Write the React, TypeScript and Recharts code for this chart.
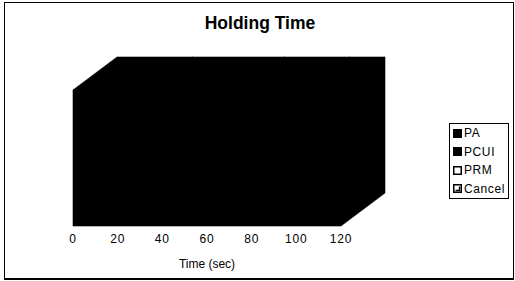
import React from "react";
import { BarChart, Bar, XAxis, YAxis } from "recharts";

const categories = ["Holding Time"];
const paValues = [34];
const pcuiValues = [41];
const prmValues = [29];
const cancelValues = [16];
const xTicks = [0, 20, 40, 60, 80, 100, 120];
const seriesNames = ["PA", "PCUI", "PRM", "Cancel"];

const rows = categories.map((name, i) => ({
  name,
  PA: paValues[i],
  PCUI: pcuiValues[i],
  PRM: prmValues[i],
  Cancel: cancelValues[i],
}));

const FONT = "'Liberation Sans', Arial, sans-serif";
// depth of the 3D box
const DX = 44;
const DY = 33;

function Box3D(props: any) {
  const { x, y, width, height } = props;
  if (!width || !height) return null;
  const x1 = x + width;
  const y1 = y + height;
  const d = [
    `M${x},${y} L${x1},${y} L${x1},${y1} L${x},${y1} Z`,
    `M${x},${y} L${x + DX},${y - DY} L${x1 + DX},${y - DY} L${x1},${y} Z`,
    `M${x1},${y} L${x1 + DX},${y - DY} L${x1 + DX},${y1 - DY} L${x1},${y1} Z`,
  ].join(" ");
  return <path d={d} fill="#000" stroke="#000" strokeWidth={0.6} />;
}

function LegendIcon({ name }: { name: string }) {
  if (name === "PRM") {
    return (
      <svg width={9} height={9} style={{ marginRight: 2 }}>
        <rect x={0.75} y={0.75} width={7.5} height={7.5} fill="#fff" stroke="#000" strokeWidth={1.5} />
      </svg>
    );
  }
  if (name === "Cancel") {
    return (
      <svg width={9} height={9} style={{ marginRight: 2 }}>
        <rect x={0.75} y={0.75} width={7.5} height={7.5} fill="#fff" stroke="#000" strokeWidth={1.5} />
        <path d="M2.5,6.5 L6.5,6.5 L6.5,2.5" fill="none" stroke="#000" strokeWidth={1.3} />
      </svg>
    );
  }
  return (
    <svg width={9} height={9} style={{ marginRight: 2 }}>
      <rect x={0} y={0} width={9} height={9} fill="#000" />
    </svg>
  );
}

function ChartLegend() {
  return (
    <div
      style={{
        position: "absolute",
        left: 449,
        top: 123,
        border: "1px solid #000",
        width: 58,
        fontFamily: FONT,
        fontSize: 12,
        letterSpacing: 0.6,
        color: "#000",
      }}
    >
      {seriesNames.map((s) => (
        <div key={s} style={{ height: 18.5, display: "flex", alignItems: "center", paddingLeft: 3 }}>
          <LegendIcon name={s} />
          <span>{s}</span>
        </div>
      ))}
    </div>
  );
}

export default function App() {
  return (
    <div style={{ position: "absolute", left: 0, top: 0, width: 515, height: 281, background: "#fff" }}>
      <div
        style={{
          position: "absolute",
          left: 4,
          top: 2,
          width: 508,
          height: 275,
          borderLeft: "1px solid #000",
          borderRight: "1px solid #000",
          borderTop: "1px solid #000",
          borderBottom: "2px solid #000",
        }}
      />
      <div
        style={{
          position: "absolute",
          left: 160,
          top: 13,
          width: 200,
          textAlign: "center",
          fontFamily: FONT,
          fontWeight: "bold",
          fontSize: 17.5,
          color: "#000",
        }}
      >
        Holding Time
      </div>
      <BarChart
        width={515}
        height={281}
        data={rows}
        layout="vertical"
        barCategoryGap={0}
        margin={{ top: 90, right: 174, bottom: 10, left: 73 }}
        style={{ position: "absolute", left: 0, top: 0 }}
      >
        <XAxis
          type="number"
          domain={[0, 120]}
          ticks={xTicks}
          axisLine={false}
          tickLine={false}
          height={45}
          tick={{ fill: "#000", fontSize: 12, fontFamily: FONT, letterSpacing: 0.8 }}
          label={{
            value: "Time (sec)",
            position: "insideBottom",
            offset: 3,
            fill: "#000",
            fontSize: 12,
            fontFamily: FONT,
          }}
        />
        <YAxis type="category" dataKey="name" hide />
        {seriesNames.map((s) => (
          <Bar key={s} dataKey={s} stackId="t" fill="#000" shape={<Box3D />} isAnimationActive={false} />
        ))}
      </BarChart>
      <ChartLegend />
    </div>
  );
}
